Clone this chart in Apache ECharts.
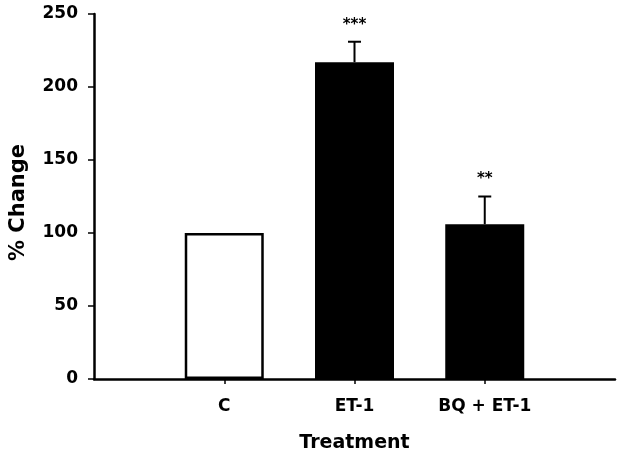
<!DOCTYPE html>
<html>
<head>
<meta charset="utf-8">
<script src="https://cdn.jsdelivr.net/npm/echarts@6/dist/echarts.min.js"></script>
<style>html,body{margin:0;padding:0;background:#fff}#c{width:624px;height:459px}</style>
</head>
<body>
<div id="c"></div>
<script>
const categories = ["", "C", "ET-1", "BQ + ET-1", ""];
const means = [null, 100, 217, 106, null];
const errors = [null, 0, 14, 19, null];
const stars = ["", "", "***", "**", ""];
const yTicks = [0, 50, 100, 150, 200, 250];

const FONT = "DejaVu Sans";
const chart = echarts.init(document.getElementById('c'), null, {renderer: 'canvas'});

const barData = means.map((v, i) => {
  if (v === null) return null;
  if (i === 1) return {value: v, itemStyle: {color: '#fff', borderColor: '#000', borderWidth: 2.5}};
  return {value: v, itemStyle: {color: '#000', borderColor: '#000', borderWidth: 0}};
});

const errData = [];
means.forEach((v, i) => { if (v !== null && errors[i] > 0) errData.push([i, v, errors[i]]); });

chart.setOption({
  animation: false,
  grid: {left: 91, right: 9, top: 14, bottom: 80, containLabel: false},
  xAxis: {
    type: 'category',
    data: categories,
    boundaryGap: false,
    name: 'Treatment',
    nameLocation: 'middle',
    nameGap: 55,
    nameTextStyle: {fontFamily: FONT, fontWeight: 'bold', fontSize: 19, color: '#000'},
    axisLine: {lineStyle: {color: '#000', width: 2.5}},
    axisTick: {show: true, length: 5, lineStyle: {color: '#000', width: 1.5},
      interval: function (idx) { return idx > 0 && idx < categories.length - 1; }},
    axisLabel: {interval: 0, margin: 19, fontFamily: FONT, fontWeight: 'bold', fontSize: 17, color: '#000'},
    splitLine: {show: false}
  },
  yAxis: {
    type: 'value',
    min: yTicks[0],
    max: yTicks[yTicks.length - 1],
    interval: 50,
    name: '% Change',
    nameLocation: 'middle',
    nameGap: 65,
    nameRotate: 90,
    nameTextStyle: {fontFamily: FONT, fontWeight: 'bold', fontSize: 21, color: '#000', padding: [0, 12, 0, 0]},
    axisLine: {show: true, lineStyle: {color: '#000', width: 2.5}},
    axisTick: {show: true, length: 6, lineStyle: {color: '#000', width: 1.5}},
    axisLabel: {margin: 16, fontFamily: FONT, fontWeight: 'bold', fontSize: 17, color: '#000'},
    splitLine: {show: false}
  },
  series: [
    {
      type: 'bar',
      data: barData,
      barWidth: 79,
      z: 2
    },
    {
      type: 'custom',
      data: errData,
      z: 3,
      renderItem: function (params, api) {
        const x = api.value(0), m = api.value(1), e = api.value(2);
        const base = api.coord([x, m]);
        const top = api.coord([x, m + e]);
        const hw = 6.5;
        const s = stars[x];
        return {
          type: 'group',
          children: [
            {type: 'line', shape: {x1: base[0], y1: base[1], x2: top[0], y2: top[1]}, style: {stroke: '#000', lineWidth: 2}},
            {type: 'line', shape: {x1: top[0] - hw, y1: top[1], x2: top[0] + hw, y2: top[1]}, style: {stroke: '#000', lineWidth: 2}},
            {type: 'text', x: top[0], y: top[1] - 17, style: {text: s, fill: '#000', font: 'bold 15px "DejaVu Sans"', align: 'center', verticalAlign: 'middle'}}
          ]
        };
      }
    }
  ]
});
</script>
</body>
</html>
